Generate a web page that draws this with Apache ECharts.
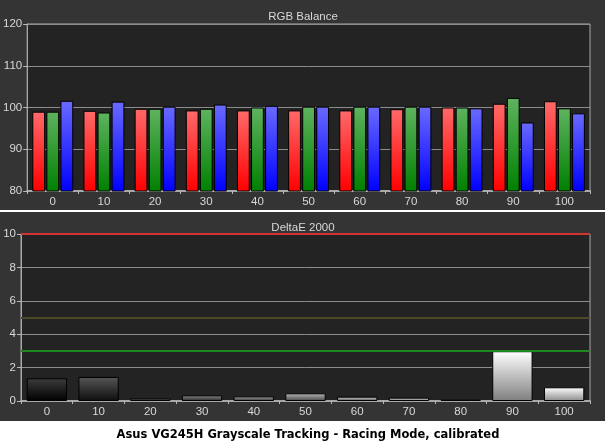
<!DOCTYPE html>
<html>
<head>
<meta charset="utf-8">
<script src="https://cdn.jsdelivr.net/npm/echarts@6/dist/echarts.min.js"></script>
<style>
html,body{margin:0;padding:0;background:#fff;}
#c{width:605px;height:441px;}
</style>
</head>
<body>
<div id="c"></div>
<script>
var categories = ['0','10','20','30','40','50','60','70','80','90','100'];
var redValues   = [99.0, 99.2, 99.7, 99.3, 99.3, 99.3, 99.3, 99.6, 100.0, 100.9, 101.5];
var greenValues = [99.0, 98.8, 99.7, 99.7, 100.0, 100.2, 100.2, 100.2, 100.0, 102.3, 99.8];
var blueValues  = [101.6, 101.4, 100.2, 100.7, 100.4, 100.2, 100.2, 100.2, 99.8, 96.4, 98.6];
var deltaE      = [1.36, 1.44, 0.16, 0.34, 0.28, 0.46, 0.26, 0.20, 0.08, 2.98, 0.82];
var rgbTicks = [80, 90, 100, 110, 120];
var deTicks = [0, 2, 4, 6, 8, 10];
var deRefLines = [10, 5, 3];

var FONT = 'Liberation Sans';
function grad(top, bottom){
  return new echarts.graphic.LinearGradient(0,0,0,1,[{offset:0,color:top},{offset:1,color:bottom}]);
}
function grayGrad(i){
  var base = Math.round(255 * (+categories[i]) / 100);
  var t = Math.min(255, base + 60), b = Math.round(base * 0.55);
  return grad('rgb('+t+','+t+','+t+')', 'rgb('+b+','+b+','+b+')');
}
var refColors = {10:'#d23434', 5:'#4c4a26', 3:'#1b8a1b'};

var axisLabel = {color:'#d8d8d8', fontSize:11.5, fontFamily:FONT};
var chart = echarts.init(document.getElementById('c'), null, {renderer:'canvas'});
chart.setOption({
  backgroundColor:'#ffffff',
  animation:false,
  graphic:[
    {type:'rect', z:-10, shape:{x:0,y:0,width:605,height:210}, style:{fill:'#343434'}},
    {type:'rect', z:-10, shape:{x:0,y:212,width:605,height:209}, style:{fill:'#343434'}}
  ],
  title:[
    {text:'RGB Balance', left:298, top:6, textAlign:'center', textStyle:{color:'#d8d8d8', fontSize:11.5, fontWeight:'normal', fontFamily:FONT}},
    {text:'DeltaE 2000', left:298, top:217, textAlign:'center', textStyle:{color:'#d8d8d8', fontSize:11.5, fontWeight:'normal', fontFamily:FONT}},
    {text:'Asus VG245H Grayscale Tracking - Racing Mode, calibrated', left:303, top:424, textAlign:'center', textStyle:{color:'#000', fontSize:11.5, fontWeight:'bold', fontFamily:'DejaVu Sans'}}
  ],
  grid:[
    {left:26, right:15, top:24, height:167, show:true, backgroundColor:'#232323', borderColor:'#a8a8a8', borderWidth:1},
    {left:21, right:15, top:234, height:167, show:true, backgroundColor:'#232323', borderColor:'#a8a8a8', borderWidth:1}
  ],
  xAxis:[
    {type:'category', gridIndex:0, data:categories, boundaryGap:true,
     axisLine:{lineStyle:{color:'#a8a8a8', width:2}}, axisTick:{show:true, length:3, lineStyle:{color:'#bbb'}},
     axisLabel:Object.assign({margin:5}, axisLabel)},
    {type:'category', gridIndex:1, data:categories, boundaryGap:true,
     axisLine:{lineStyle:{color:'#a8a8a8', width:2}}, axisTick:{show:true, length:3, lineStyle:{color:'#bbb'}},
     axisLabel:Object.assign({margin:5}, axisLabel)}
  ],
  yAxis:[
    {type:'value', gridIndex:0, min:rgbTicks[0], max:rgbTicks[rgbTicks.length-1], interval:10,
     axisLine:{show:true, lineStyle:{color:'#a8a8a8'}}, axisTick:{show:true, length:4, lineStyle:{color:'#bbb'}},
     splitLine:{lineStyle:{color:'#8c8c8c'}}, axisLabel:Object.assign({margin:5}, axisLabel)},
    {type:'value', gridIndex:1, min:deTicks[0], max:deTicks[deTicks.length-1], interval:2,
     axisLine:{show:true, lineStyle:{color:'#a8a8a8'}}, axisTick:{show:true, length:4, lineStyle:{color:'#bbb'}},
     splitLine:{lineStyle:{color:'#8c8c8c'}}, axisLabel:Object.assign({margin:5}, axisLabel)}
  ],
  series:[
    {name:'R', type:'bar', xAxisIndex:0, yAxisIndex:0, data:redValues, barGap:'10%', barCategoryGap:'20%',
     itemStyle:{color:grad('#ff6a6a','#ff0000'), borderColor:'#000', borderWidth:1}},
    {name:'G', type:'bar', xAxisIndex:0, yAxisIndex:0, data:greenValues, barGap:'10%', barCategoryGap:'20%',
     itemStyle:{color:grad('#5fb35f','#008000'), borderColor:'#000', borderWidth:1}},
    {name:'B', type:'bar', xAxisIndex:0, yAxisIndex:0, data:blueValues, barGap:'10%', barCategoryGap:'20%',
     itemStyle:{color:grad('#6a6aff','#0000ff'), borderColor:'#000', borderWidth:1}},
    {name:'dE', type:'bar', xAxisIndex:1, yAxisIndex:1, barCategoryGap:'22%',
     data:deltaE.map(function(v,i){return {value:v, itemStyle:{color:grayGrad(i)}};}),
     itemStyle:{borderColor:'#000', borderWidth:1},
     markLine:{silent:true, symbol:['none','none'], label:{show:false}, animation:false,
       data:deRefLines.map(function(v){return {yAxis:v, lineStyle:{color:refColors[v], width:2, type:'solid'}};})}}
  ]
});
</script>
</body>
</html>
